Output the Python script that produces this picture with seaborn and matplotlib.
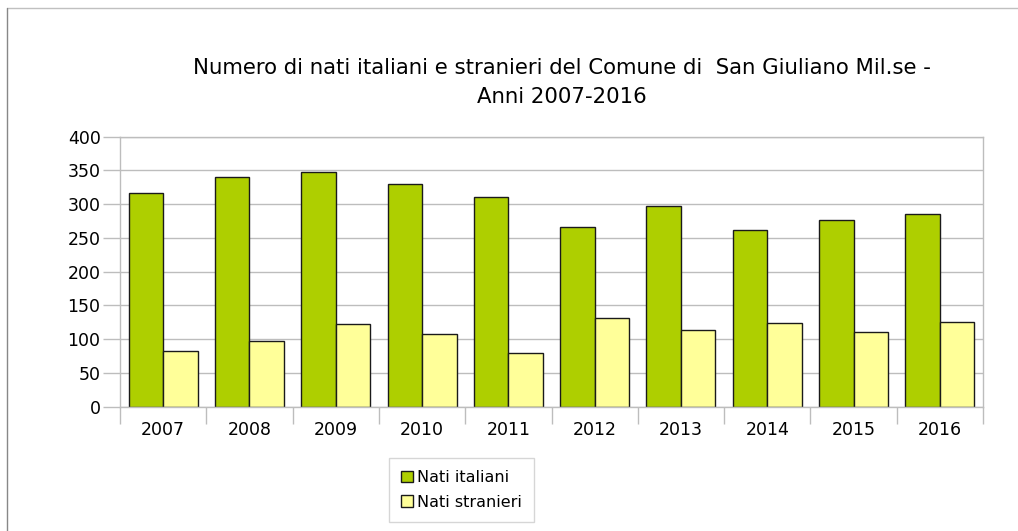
import numpy as np
import pandas as pd
import matplotlib
matplotlib.use("Agg")
import matplotlib.pyplot as plt
import seaborn as sns
from matplotlib.lines import Line2D
from matplotlib.ticker import FixedLocator

# -------------------- DATA --------------------
anni = ["2007", "2008", "2009", "2010", "2011", "2012", "2013", "2014", "2015", "2016"]
nati_italiani = [316, 341, 348, 330, 311, 267, 298, 262, 276, 286]
nati_stranieri = [82, 97, 122, 108, 79, 131, 113, 124, 111, 126]
serie = ["Nati italiani", "Nati stranieri"]
colori = ["#AECF00", "#FFFF99"]

df = pd.DataFrame({
    "anno": anni * 2,
    "valore": nati_italiani + nati_stranieri,
    "serie": [serie[0]] * len(anni) + [serie[1]] * len(anni),
})

# -------------------- PLOT --------------------
sns.set_theme(style="white")
plt.rcParams["font.family"] = ["DejaVu Sans"]
plt.rcParams["text.color"] = "black"

fig = plt.figure(figsize=(10.18, 5.31), dpi=100)
ax = fig.add_axes([0.1179, 0.234, 0.8477, 0.5085])

sns.barplot(data=df, x="anno", y="valore", hue="serie", palette=colori, saturation=1,
            width=0.8, edgecolor="#1a1a1a", linewidth=1.0, ax=ax, legend=True)

grid_col = "#bdbdbd"
ax.set_ylim(0, 400)
ax.set_xlim(-0.5, len(anni) - 0.5)
ax.set_yticks(np.arange(0, 401, 50))
ax.yaxis.grid(True, color=grid_col, linewidth=1.0)
ax.set_axisbelow(True)
ax.set_xlabel("")
ax.set_ylabel("")

for s in ax.spines.values():
    s.set_color(grid_col)
    s.set_linewidth(1.0)

# category boundary ticks
ax.xaxis.set_minor_locator(FixedLocator(np.arange(-0.5, len(anni), 1.0)))
ax.tick_params(axis="x", which="major", length=0, pad=10, labelsize=12.5, labelcolor="black")
ax.tick_params(axis="x", which="minor", length=12, width=1.0, color=grid_col, bottom=True)
ax.tick_params(axis="y", which="major", length=12, width=1.0, color=grid_col, left=True,
               labelsize=12.5, pad=2, labelcolor="black")

leg = ax.legend(loc="upper center", bbox_to_anchor=(0.396, -0.19), ncol=1,
                frameon=True, fancybox=False, edgecolor="#cccccc", fontsize=11.5,
                handlelength=0.7, handleheight=0.7, handletextpad=0.3,
                borderpad=0.75, labelspacing=0.6, borderaxespad=0)
for t in leg.get_texts():
    t.set_color("black")

fig.text(0.552, 0.872, "Numero di nati italiani e stranieri del Comune di  San Giuliano Mil.se -",
         ha="center", va="center", fontsize=15.3)
fig.text(0.552, 0.817, "Anni 2007-2016", ha="center", va="center", fontsize=15.3)

# outer frame
fig.lines.append(Line2D([0.0065, 1.0], [0.985, 0.985], transform=fig.transFigure,
                        color="#c0c0c0", linewidth=1.0))
fig.lines.append(Line2D([0.0065, 0.0065], [0.0, 0.985], transform=fig.transFigure,
                        color="#888888", linewidth=1.0))

fig.savefig("out.png", dpi=100)
